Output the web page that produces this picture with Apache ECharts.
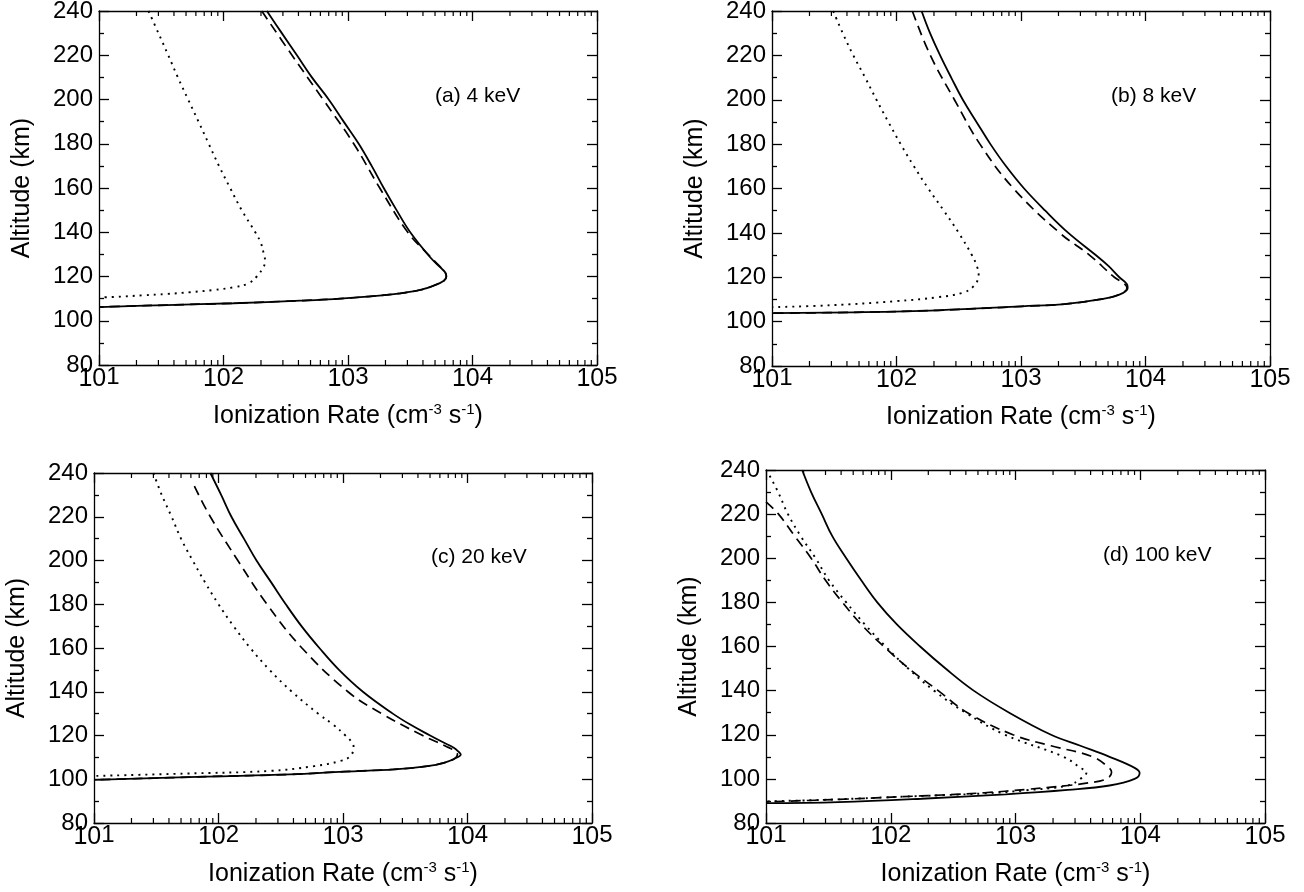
<!DOCTYPE html>
<html><head><meta charset="utf-8">
<script src="https://cdn.jsdelivr.net/npm/echarts@6/dist/echarts.min.js"></script>
<style>html,body{margin:0;padding:0;background:#fff}#c{width:1304px;height:892px}</style>
</head><body><div id="c"></div>
<script>
// ---------------- data (ionization rate in cm^-3 s^-1, altitude in km) ----------------
const panelTitles = ['(a) 4 keV', '(b) 8 keV', '(c) 20 keV', '(d) 100 keV'];
const yTitle = 'Altitude (km)';
const xTitle = 'Ionization Rate (cm{sup|-3} s{sup|-1})';
const xTickBase = '10';
const altMin = 80, altMax = 240, altStep = 20;
const rateMin = 10, rateMax = 100000;
const minorMultipliers = [2, 3, 4, 5, 6, 7, 8, 9];
const decades = [10, 100, 1000, 10000];

const aSolid = [[223,240],[294,230],[389,220],[513,210],[700,200],[923,190],[1219,180],[1549,170],[1936,160],[2455,150],[3162,140],[4571,128.7],[5495,124.2],[6026,121.9],[6166,120],[5888,118.1],[4898,115.9],[3802,113.9],[2630,112.4],[1422,110.9],[767,109.8],[414,109.1],[120,107.9],[35,107.1],[10,106.2]];
const aDashed = [[203,240],[355,220],[631,200],[1112,180],[1799,160],[3020,140],[4395,130],[5370,125],[6026,121.9],[6166,120],[5888,118.1],[4898,115.9],[3802,113.9],[2630,112.4],[1422,110.9],[767,109.8],[414,109.1],[120,107.9],[35,107.1],[10,106.2]];
const aDotted = [[25,240],[30,230],[36,220],[43,210],[52,200],[63,190],[76,180],[92,170],[113,160],[140,150],[180,140],[200,135],[211,130],[216,127],[209,124.2],[185,120],[159,116.9],[120,115.1],[83,113.9],[54,112.9],[35,112.1],[22.7,111.5],[14.8,110.9],[10,110.5]];

const bSolid = [[159,240],[186,230],[224,220],[275,210],[341,200],[439,190],[568,180],[759,170],[1059,160],[1567,150],[2399,140],[3981,130],[5058,125],[6166,120],[7079,117],[7194,115.2],[6166,112.2],[4169,109.9],[2228,107.9],[1018,106.9],[214,105.1],[45,104.2],[10,103.8]];
const bDashed = [[134,240],[187,220],[292,200],[468,180],[871,160],[2042,140],[3548,130],[5623,120],[6761,117],[7100,115.2],[6166,112.2],[4169,109.9],[2228,107.9],[1018,106.9],[214,105.1],[45,104.2],[10,103.8]];
const bDotted = [[31,240],[37,230],[45,220],[56,210],[69,200],[86,190],[108,180],[138,170],[180,160],[240,150],[316,140],[403,130],[442,125],[457,121],[417,116],[339,113],[214,111],[98,109.2],[30,107.4],[10,106.5]];

const cSolid = [[86,240],[105,230],[127,220],[160,210],[202,200],[265,190],[347,180],[464,170],[646,160],[929,150],[1445,140],[2512,130],[3467,125],[5012,120],[6310,117],[7762,114.4],[8511,112.5],[8831,111.3],[7852,109.4],[6457,107.5],[4764,106],[2570,104.5],[1023,103.5],[374,102.2],[80,101.2],[10,99.7]];
const cDashed = [[64,234],[86,220],[143,200],[245,180],[468,160],[1096,140],[2042,130],[4365,120],[6761,115],[7852,113],[8300,111.3],[7852,109.4],[6457,107.5],[4764,106],[2570,104.5],[1023,103.5],[374,102.2],[80,101.2],[10,99.7]];
const cDotted = [[30,240],[35,230],[42,220],[50,210],[62,200],[78,190],[100,180],[132,170],[180,160],[257,150],[389,140],[631,130],[832,125],[1047,120],[1175,117],[1216,115],[1148,110.6],[944,108.3],[589,106],[257,103.8],[54,102.6],[10,101.5]];

const dSolid = [[19.5,240],[23,230],[28,220],[34,210],[44,200],[58,190],[78,180],[112,170],[172,160],[275,150],[462,140],[891,130],[1928,120],[3311,115],[5675,110],[9016,105],[9886,102.7],[9016,100],[5675,97],[2630,95],[832,93],[176,91],[38,89.5],[10,89]];
const dDashed = [[10,225.6],[12.6,220],[17,210],[23,200],[30,190],[41,180],[58,170],[88,160],[140,150],[240,140],[412,130],[955,120],[1928,115],[4169,110],[5623,105],[5888,103],[5370,100],[3855,98.2],[2630,97],[1202,95.2],[562,93.7],[257,92.7],[120,91.9],[38,90.7],[10,89.6]];
const dDotted = [[10.7,237.4],[12.5,230],[15,220],[19,210],[25,200],[32,190],[44,180],[62,170],[91,160],[138,150],[222,140],[398,130],[824,120],[2427,110],[3311,105],[3715,103],[3311,100],[2630,97],[1202,94.8],[562,93.4],[257,92.6],[120,91.9],[55,91.1],[26,90.4],[11.7,89.9],[10,89.8]];

const panelData = [
  [aSolid, aDashed, aDotted],
  [bSolid, bDashed, bDotted],
  [cSolid, cDashed, cDotted],
  [dSolid, dDashed, dDotted]
];

// ---------------- layout / style ----------------
const FONT = '"Liberation Sans", Arial, Helvetica, sans-serif';
const grids = [
  {left: 99, top: 11, width: 498, height: 354},
  {left: 772, top: 11, width: 498, height: 355},
  {left: 94, top: 473, width: 498, height: 350},
  {left: 766, top: 470, width: 499, height: 353}
];
const titleGaps = [30, 30, 37, 37];
const annot = [
  {left: 435, top: 86},
  {left: 1111, top: 86},
  {left: 431, top: 547},
  {left: 1103, top: 545}
];
const lineStyles = [
  {type: 'solid', width: 1.8},
  {type: [10, 6], width: 1.7},
  {type: [2, 5], width: 1.9}
];

const minorValues = [];
decades.forEach(d => minorMultipliers.forEach(m => minorValues.push([d * m])));

const axisLineStyle = {color: '#000', width: 1.3};
const xAxes = [], yAxes = [], series = [], graphics = [];

grids.forEach((g, i) => {
  g.outerBoundsMode = 'none';
  g.containLabel = false;
  xAxes.push({
    type: 'log', logBase: 10, gridIndex: i, min: rateMin, max: rateMax, position: 'bottom',
    axisLine: {show: true, lineStyle: axisLineStyle},
    axisTick: {show: true, inside: true, length: 10, lineStyle: axisLineStyle},
    splitLine: {show: false},
    axisLabel: {
      margin: 0, color: '#000', fontFamily: FONT,
      formatter: v => '{b|' + xTickBase + '}{s|' + Math.round(Math.log10(v)) + '}',
      rich: {
        b: {fontSize: 25, lineHeight: 27, verticalAlign: 'bottom', fontFamily: FONT, color: '#000'},
        s: {fontSize: 24, lineHeight: 24, verticalAlign: 'top', padding: [0, 0, 12, 0], fontFamily: FONT, color: '#000'}
      }
    },
    name: xTitle, nameLocation: 'middle', nameGap: titleGaps[i],
    nameTextStyle: {
      fontSize: 25, color: '#000', fontFamily: FONT, lineHeight: 28,
      rich: {sup: {fontSize: 15, lineHeight: 15, verticalAlign: 'top', padding: [0, 0, 12, 0], fontFamily: FONT, color: '#000'}}
    }
  });
  xAxes.push({
    type: 'log', logBase: 10, gridIndex: i, min: rateMin, max: rateMax, position: 'top',
    axisLine: {show: true, lineStyle: axisLineStyle},
    axisTick: {show: true, inside: true, length: 10, lineStyle: axisLineStyle},
    axisLabel: {show: false}, splitLine: {show: false}
  });
  yAxes.push({
    type: 'value', gridIndex: i, min: altMin, max: altMax, interval: altStep, position: 'left',
    axisLine: {show: true, lineStyle: axisLineStyle},
    axisTick: {show: true, inside: true, length: 10, lineStyle: axisLineStyle},
    minorTick: {show: true, splitNumber: 2, length: 5, lineStyle: axisLineStyle},
    splitLine: {show: false}, minorSplitLine: {show: false},
    axisLabel: {color: '#000', fontSize: 24, margin: 6, fontFamily: FONT},
    name: yTitle, nameLocation: 'middle', nameGap: 64,
    nameTextStyle: {fontSize: 25, color: '#000', fontFamily: FONT}
  });
  yAxes.push({
    type: 'value', gridIndex: i, min: altMin, max: altMax, interval: altStep, position: 'right',
    axisLine: {show: true, lineStyle: axisLineStyle},
    axisTick: {show: true, inside: true, length: 10, lineStyle: axisLineStyle},
    minorTick: {show: true, splitNumber: 2, length: 5, lineStyle: axisLineStyle},
    splitLine: {show: false}, minorSplitLine: {show: false},
    axisLabel: {show: false}
  });
  panelData[i].forEach((d, k) => {
    series.push({
      type: 'line', xAxisIndex: 2 * i, yAxisIndex: 2 * i, data: d,
      showSymbol: false, symbol: 'none', smooth: 0.4, silent: true,
      lineStyle: {color: '#000', width: lineStyles[k].width, type: lineStyles[k].type}
    });
  });
  series.push({
    type: 'custom', xAxisIndex: 2 * i, yAxisIndex: 2 * i, data: minorValues, silent: true, clip: false,
    renderItem: function (params, api) {
      const v = api.value(0);
      const pb = api.coord([v, altMin]);
      const pt = api.coord([v, altMax]);
      return {type: 'group', children: [
        {type: 'line', shape: {x1: pb[0], y1: pb[1], x2: pb[0], y2: pb[1] - 5}, style: {stroke: '#000', lineWidth: 1.2}},
        {type: 'line', shape: {x1: pt[0], y1: pt[1], x2: pt[0], y2: pt[1] + 5}, style: {stroke: '#000', lineWidth: 1.2}}
      ]};
    }
  });
  graphics.push({
    type: 'text', left: annot[i].left, top: annot[i].top, silent: true,
    style: {text: panelTitles[i], fontSize: 21, fill: '#000', fontFamily: FONT}
  });
});

const chart = echarts.init(document.getElementById('c'), null, {renderer: 'canvas'});
chart.setOption({
  backgroundColor: '#fff',
  animation: false,
  textStyle: {fontFamily: FONT, color: '#000'},
  grid: grids,
  xAxis: xAxes,
  yAxis: yAxes,
  series: series,
  graphic: graphics
});
</script>
</body></html>
